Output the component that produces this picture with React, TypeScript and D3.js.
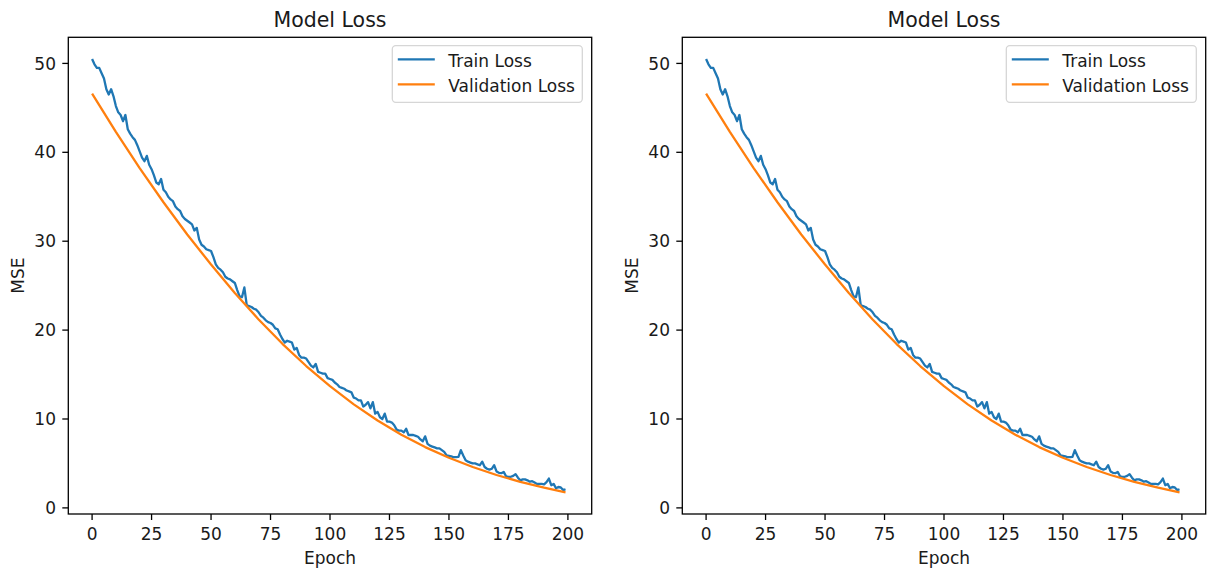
import React from 'react';
import * as d3 from 'd3';

// Train loss per epoch (index = epoch 0..199)
const TRAIN_LOSS: number[] = [
  50.5, 49.9, 49.5, 49.5, 48.9, 48.3, 47.1, 46.5, 47.1, 46.3,
  45.2, 44.5, 44.2, 43.5, 44.2, 42.6, 42.1, 41.7, 41.4, 40.8,
  40.1, 39.4, 39.0, 39.6, 38.6, 38.1, 37.4, 36.6, 36.4, 37.0,
  35.8, 35.5, 35.0, 34.7, 34.5, 33.9, 33.6, 33.4, 32.8, 32.5,
  32.3, 32.1, 31.9, 31.2, 31.5, 30.2, 29.6, 29.4, 29.1, 29.0,
  28.9, 28.2, 27.4, 27.0, 26.8, 26.5, 26.0, 25.8, 25.7, 25.5,
  25.3, 24.5, 23.8, 23.7, 24.8, 22.8, 22.7, 22.6, 22.4, 22.3,
  22.0, 21.6, 21.4, 21.1, 20.9, 20.8, 20.6, 20.2, 20.1, 19.5,
  19.0, 18.6, 18.8, 18.7, 18.6, 17.8, 18.0, 17.2, 16.9, 16.9,
  16.8, 16.4, 16.0, 15.8, 16.2, 15.3, 15.2, 15.1, 15.1, 14.6,
  14.5, 14.4, 14.1, 13.9, 13.6, 13.5, 13.4, 13.2, 13.1, 13.0,
  12.4, 12.3, 12.1, 12.1, 11.4, 11.6, 11.9, 11.2, 11.9, 10.6,
  10.8, 10.2, 10.0, 10.6, 9.7, 9.7, 9.6, 9.3, 8.8, 8.7,
  8.7, 8.5, 8.9, 8.2, 8.2, 8.2, 8.1, 8.0, 7.7, 7.5,
  8.05, 7.2, 7.0, 6.9, 6.8, 6.7, 6.7, 6.5, 6.3, 5.9,
  5.85, 5.8, 5.7, 5.7, 5.75, 6.5, 5.9, 5.35, 5.2, 5.1,
  5.0, 5.0, 4.9, 4.8, 5.2, 4.6, 4.4, 4.3, 4.4, 4.8,
  4.1, 3.95, 3.9, 4.05, 3.55, 3.5, 3.5, 3.6, 3.8, 3.4,
  3.1, 3.2, 3.2, 3.1, 2.95, 3.0, 2.85, 2.7, 2.7, 2.7,
  2.65, 2.9, 3.3, 2.55, 2.7, 2.2, 2.35, 2.3, 2.0, 2.1,
];

// Validation loss (smooth), read at these epochs
const VAL_EPOCHS: number[] = [0, 10, 20, 30, 40, 50, 60, 70, 80, 90, 100, 110, 120, 130, 140, 150, 160, 170, 180, 190, 199];
const VAL_LOSS: number[] = [46.6, 42.3, 38.23, 34.38, 30.76, 27.37, 24.17, 21.2, 18.46, 15.96, 13.69, 11.65, 9.83, 8.23, 6.84, 5.64, 4.6, 3.7, 2.93, 2.27, 1.75];

const X_TICKS: number[] = [0, 25, 50, 75, 100, 125, 150, 175, 200];
const Y_TICKS: number[] = [0, 10, 20, 30, 40, 50];
const SERIES_NAMES: string[] = ['Train Loss', 'Validation Loss'];
const SERIES_COLORS: string[] = ['#1f77b4', '#ff7f0e'];
const TITLE = 'Model Loss';
const X_LABEL = 'Epoch';
const Y_LABEL = 'MSE';
const X_DOMAIN: [number, number] = [-10, 210];

const W = 1208;
const H = 572;
const PANEL_OFFSETS = [0, 614];
const AX = { left: 68.3, right: 591.7, top: 37.3, bottom: 514 };
const FONT = 'DejaVu Sans, Verdana, sans-serif';
const FS = 17;
const TICK_LEN = 6;
const TEXT = '#1a1a1a';

function Panel({ dx }: { dx: number }) {
  const left = AX.left + dx;
  const right = AX.right + dx;
  const x = d3.scaleLinear().domain(X_DOMAIN).range([left, right]);
  const all = TRAIN_LOSS.concat(VAL_LOSS);
  const mn = d3.min(all) as number;
  const mx = d3.max(all) as number;
  const pad = (mx - mn) * 0.05;
  const y = d3.scaleLinear().domain([mn - pad, mx + pad]).range([AX.bottom, AX.top]);

  const line = d3.line<[number, number]>().x((d) => x(d[0])).y((d) => y(d[1]));
  const trainPts: [number, number][] = TRAIN_LOSS.map((v, i) => [i, v]);
  const valPts: [number, number][] = VAL_LOSS.map((v, i) => [VAL_EPOCHS[i], v]);

  const legRight = right - 9.4;
  const legLeft = legRight - 190;
  const legTop = AX.top + 8.4;
  const legH = 56.6;

  return (
    <g>
      <rect x={left} y={AX.top} width={right - left} height={AX.bottom - AX.top} fill="#fff" />
      <path d={line(trainPts) || ''} fill="none" stroke={SERIES_COLORS[0]} strokeWidth={2.3} strokeLinejoin="round" />
      <path d={line(valPts) || ''} fill="none" stroke={SERIES_COLORS[1]} strokeWidth={2.3} strokeLinejoin="round" />
      <rect x={left} y={AX.top} width={right - left} height={AX.bottom - AX.top} fill="none" stroke="#000" strokeWidth={1.3} />
      {X_TICKS.map((t) => (
        <g key={'x' + t}>
          <line x1={x(t)} x2={x(t)} y1={AX.bottom} y2={AX.bottom + TICK_LEN} stroke="#000" strokeWidth={1.3} />
          <text x={x(t)} y={540} textAnchor="middle" fontSize={FS} fontFamily={FONT} fill={TEXT}>{t}</text>
        </g>
      ))}
      {Y_TICKS.map((t) => (
        <g key={'y' + t}>
          <line x1={left - TICK_LEN} x2={left} y1={y(t)} y2={y(t)} stroke="#000" strokeWidth={1.3} />
          <text x={left - 12.3} y={y(t)} dy="0.36em" textAnchor="end" fontSize={FS} fontFamily={FONT} fill={TEXT}>{t}</text>
        </g>
      ))}
      <text x={(left + right) / 2} y={27} textAnchor="middle" fontSize={20.5} fontFamily={FONT} fill={TEXT}>{TITLE}</text>
      <text x={(left + right) / 2} y={564} textAnchor="middle" fontSize={FS} fontFamily={FONT} fill={TEXT}>{X_LABEL}</text>
      <text transform={`translate(${dx + 24},${(AX.top + AX.bottom) / 2}) rotate(-90)`} textAnchor="middle" fontSize={FS} fontFamily={FONT} fill={TEXT}>{Y_LABEL}</text>
      <rect x={legLeft} y={legTop} width={190} height={legH} rx={3.5} fill="#fff" fillOpacity={0.8} stroke="#d6d6d6" strokeWidth={1.3} />
      {SERIES_NAMES.map((name, i) => {
        const cy = legTop + 13.6 + i * 25;
        return (
          <g key={name}>
            <line x1={legLeft + 5.5} x2={legLeft + 42.5} y1={cy} y2={cy} stroke={SERIES_COLORS[i]} strokeWidth={2.3} />
            <text x={legLeft + 56} y={cy + 1.5} dy="0.36em" fontSize={FS} fontFamily={FONT} fill={TEXT}>{name}</text>
          </g>
        );
      })}
    </g>
  );
}

export default function App() {
  return (
    <svg width={W} height={H} style={{ position: 'absolute', left: 0, top: 0, background: '#fff' }}>
      <rect x={0} y={0} width={W} height={H} fill="#fff" />
      {PANEL_OFFSETS.map((o) => (
        <Panel key={o} dx={o} />
      ))}
    </svg>
  );
}
